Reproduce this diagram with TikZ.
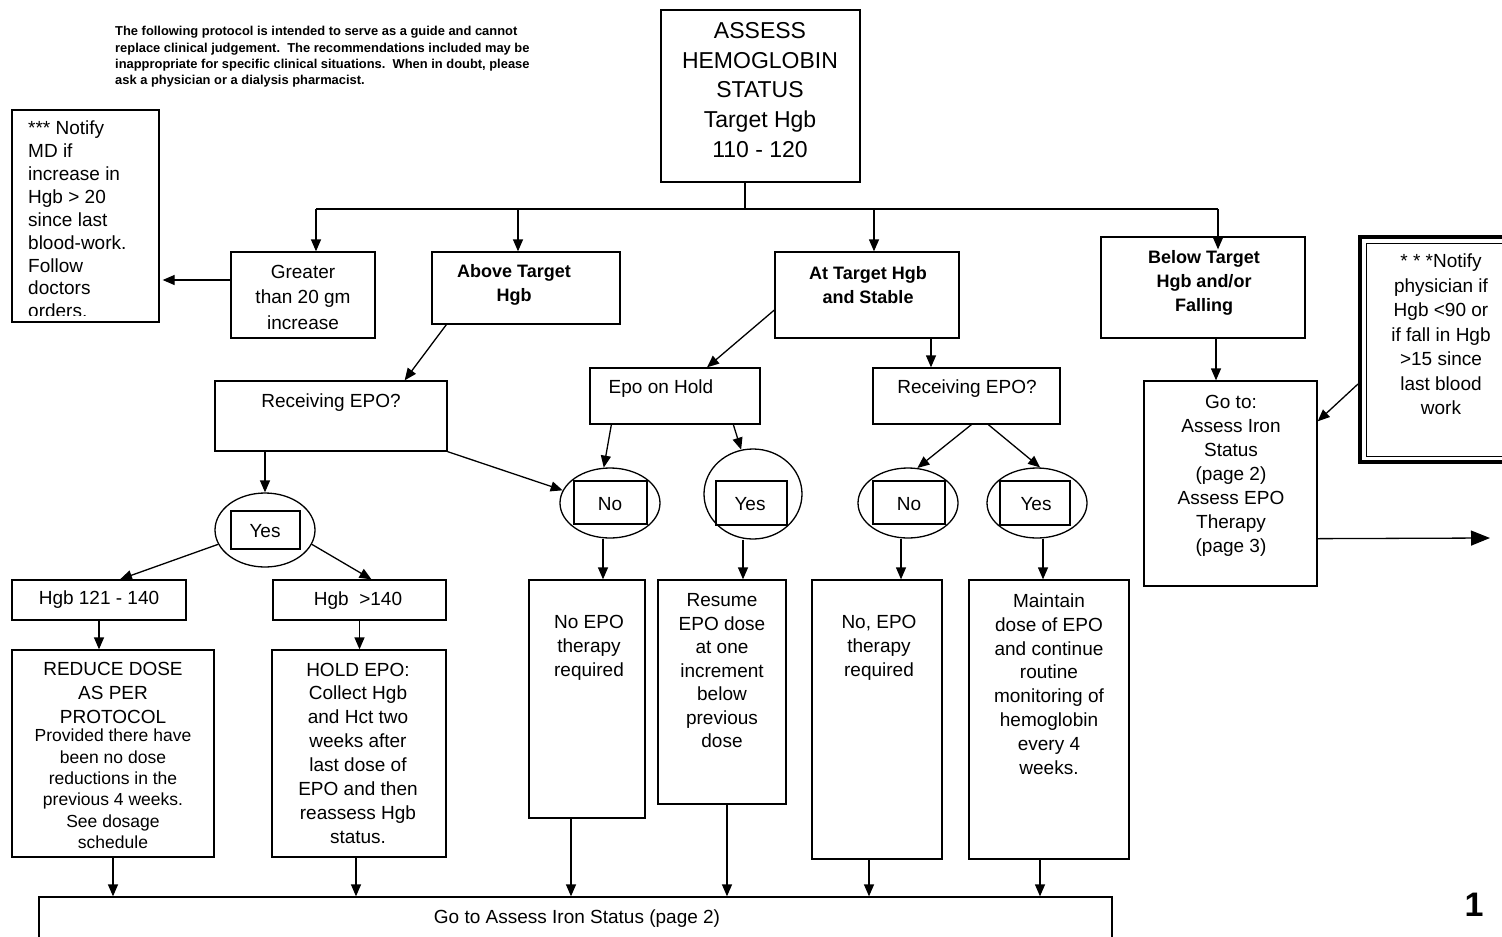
\documentclass[tikz,border=0pt]{standalone}
\usepackage{fontspec}
\setmainfont{Liberation Sans}
\usetikzlibrary{arrows.meta,calc,fit,shapes.geometric}
\begin{document}
\begin{tikzpicture}[x=1pt,y=-1pt,
  box/.style={draw,line width=1.3pt,inner sep=0pt},
  txt/.style={inner sep=0pt,align=center,font=\fontsize{19}{#1}\selectfont},
  txt/.default=23.5,
  arr/.style={line width=1.3pt,-{Triangle[length=12pt,width=10pt]}},
  ln/.style={line width=1.3pt},
  ell/.style={draw,ellipse,line width=1.3pt,inner sep=0pt}]
\clip (0,0) rectangle (1502,937);

% disclaimer
\node[inner sep=0pt,align=left,anchor=west,font=\bfseries\fontsize{12.9}{16.3}\selectfont] (discl) at (115,57)
 {The following protocol is intended to serve as a guide and cannot\\
  replace clinical judgement.\ \ The recommendations included may be\\
  inappropriate for specific clinical situations.\ \ When in doubt, please\\
  ask a physician or a dialysis pharmacist.};

% title
\node[box,fit={(661,10)(860,182)}] (title) {};
\node[inner sep=0pt,align=center,font=\fontsize{23}{29.7}\selectfont] (titleT) at (760,90)
 {ASSESS\\HEMOGLOBIN\\STATUS\\Target Hgb\\110 - 120};

% first row
\node[box,fit={(12,110)(159,322)}] (notifyL) {};
\begin{scope}
\clip (12,110) rectangle (159,315);
\node[txt=22.9,align=left,anchor=west] (notifyLT) at (28,219.5)
 {*** Notify\\MD if\\increase in\\Hgb > 20\\since last\\blood-work.\\Follow\\doctors\\orders.};
\end{scope}
\node[box,fit={(231,252)(375,338)}] (greater) {};
\node[txt=25.5] (greaterT) at (303,297) {Greater\\than 20 gm\\increase};
\node[box,fit={(432,252)(620,324)}] (above) {};
\node[txt=24,font=\bfseries\fontsize{18}{24}\selectfont] (aboveT) at (514,285) {Above Target\\Hgb};
\node[box,fit={(775,252)(959,338)}] (atT) {};
\node[txt=24,font=\bfseries\fontsize{18}{24}\selectfont] (atTT) at (868,285) {At Target Hgb\\and Stable};
\node[box,fit={(1101,237)(1305,338)}] (below) {};
\node[txt=24,font=\bfseries\fontsize{18}{24}\selectfont] (belowT) at (1204,283) {Below Target\\Hgb and/or\\Falling};
\node[draw,line width=4pt,inner sep=0pt,fit={(1360,237)(1515,462)}] (notifyR) {};
\node[draw,line width=1pt,inner sep=0pt,fit={(1366,243)(1515,456)}] (notifyRi) {};
\node[txt=24.5] (notifyRT) at (1441,334.5)
 {* * *Notify\\physician if\\Hgb <90 or\\if fall in Hgb\\>15 since\\last blood\\work};

% bus
\coordinate (bus) at (745,209);
\coordinate (busL) at (316,209);
\coordinate (busA) at (518,209);
\coordinate (busT) at (874,209);
\coordinate (busR) at (1218,209);
\draw[ln] (title.south -| bus) -- (bus);
\draw[ln] (busL) -- (busR);
\draw[arr] (busL) -- (busL |- greater.north);
\draw[arr] (busA) -- (busA |- above.north);
\draw[arr] (busT) -- (busT |- atT.north);
\coordinate (belowIn) at ($(below.north -| busR)+(0,13)$);
\draw[arr] (busR) -- (belowIn);
\draw[arr] ($(greater.west)+(0,-15)$) -- ($(notifyL.east)+(3,64)$);

% second row
\node[box,fit={(215,381)(447,451)}] (recL) {};
\node[txt] (recLT) at (331,403) {Receiving EPO?};
\node[box,fit={(590,368)(760,424)}] (epo) {};
\node[txt] (epoT) at (661,389) {Epo on Hold};
\node[box,fit={(873,368)(1060,424)}] (recM) {};
\node[txt] (recMT) at (967,389) {Receiving EPO?};
\node[box,fit={(1144,381)(1317,586)}] (goto) {};
\node[txt=24] (gotoT) at (1231,476) {Go to:\\Assess Iron\\Status\\(page 2)\\Assess EPO\\Therapy\\(page 3)};

\draw[arr] ($(above.south west)+(15,0)$) -- ($(recL.north east)+(-43,0)$);
\draw[arr] ($(atT.west)+(0,15)$) -- ($(epo.north)+(32,0)$);
\coordinate (atS) at ($(atT.south)+(64,0)$);
\draw[arr] (atS) -- (atS |- recM.north);
\coordinate (belS) at ($(below.south)+(13,0)$);
\draw[arr] (belS) -- (belS |- goto.north);
\draw[arr] ($(notifyR.west)+(0,34.5)$) -- ($(goto.north east)+(0,41)$);
\coordinate (pageArrow) at (1490,538);
\draw[line width=1.3pt,-{Triangle[length=19pt,width=15pt]}] ($(goto.south east)+(0,-48)$) -- (pageArrow);

% ellipses
\node[ell,minimum width=100pt,minimum height=74pt] (ellYL) at (265,530) {};
\node[box,fit={(231,511)(300,549)}] (yL) {};
\node[txt] (yLT) at (265,531) {Yes};
\node[ell,minimum width=100pt,minimum height=70pt] (ellN1) at (610,503) {};
\node[box,fit={(574,481)(647,524)}] (n1) {};
\node[txt] (n1T) at (610,504) {No};
\node[ell,minimum width=98pt,minimum height=90pt] (ellY1) at (753,494) {};
\node[box,fit={(716,481)(787,525)}] (y1) {};
\node[txt] (y1T) at (750,504) {Yes};
\node[ell,minimum width=100pt,minimum height=70pt] (ellN2) at (908,503) {};
\node[box,fit={(873,481)(945,524)}] (n2) {};
\node[txt] (n2T) at (909,504) {No};
\node[ell,minimum width=100pt,minimum height=70pt] (ellY2) at (1037,503) {};
\node[box,fit={(1000,481)(1070,525)}] (y2) {};
\node[txt] (y2T) at (1036,504) {Yes};

\draw[arr] (recL.south -| ellYL.north) -- (ellYL.north);
\draw[arr] (recL.south east) -- (ellN1.165);
\draw[arr] ($(epo.south west)+(22,0)$) -- (ellN1.100);
\draw[arr] ($(epo.south west)+(144,0)$) -- (ellY1.105);
\draw[arr] ($(recM.south west)+(99,0)$) -- (ellN2.75);
\draw[arr] ($(recM.south west)+(116,0)$) -- (ellY2.85);

% third row
\node[box,fit={(12,580)(186,620)}] (h121) {};
\node[txt] (h121T) at (99,600) {Hgb 121 - 140};
\node[box,fit={(273,580)(446,620)}] (h140) {};
\node[txt] (h140T) at (358,601) {Hgb\ \ >140};
\draw[arr] (ellYL.197) -- ($(h121.north)+(21,0)$);
\draw[arr] (ellYL.-17) -- ($(h140.north)+(12,0)$);

\node[box,fit={(12,650)(214,857)}] (reduce) {};
\node[txt=24] (reduceA) at (113,693) {REDUCE DOSE\\AS PER\\PROTOCOL};
\node[txt=21.4,font=\fontsize{17.5}{21.4}\selectfont] (reduceB) at (113,789)
 {Provided there have\\been no dose\\reductions in the\\previous 4 weeks.\\See dosage\\schedule};
\node[box,fit={(272,650)(446,857)}] (hold) {};
\node[txt=23.86] (holdT) at (358,753)
 {HOLD EPO:\\Collect Hgb\\and Hct two\\weeks after\\last dose of\\EPO and then\\reassess Hgb\\status.};
\draw[arr] (h121.south) -- (h121.south |- reduce.north);
\draw[arr] (h140.south) -- (h140.south |- hold.north);

\node[box,fit={(529,580)(645,818)}] (noEpo) {};
\node[txt=24] (noEpoT) at (589,648) {No EPO\\therapy\\required};
\node[box,fit={(658,580)(786,804)}] (resume) {};
\node[txt=23.5] (resumeT) at (722,671) {Resume\\EPO dose\\at one\\increment\\below\\previous\\dose};
\node[box,fit={(812,580)(942,859)}] (noEpo2) {};
\node[txt=24] (noEpo2T) at (879,648) {No, EPO\\therapy\\required};
\node[box,fit={(969,580)(1129,859)}] (maintain) {};
\node[txt=23.86] (maintainT) at (1049,684)
 {Maintain\\dose of EPO\\and continue\\routine\\monitoring of\\hemoglobin\\every 4\\weeks.};

\coordinate (n1s) at ($(ellN1.south)+(-7,0)$);
\draw[arr] (n1s) -- (n1s |- noEpo.north);
\coordinate (y1s) at ($(ellY1.south)+(-10,0)$);
\draw[arr] (y1s) -- (y1s |- resume.north);
\coordinate (n2s) at ($(ellN2.south)+(-7,0)$);
\draw[arr] (n2s) -- (n2s |- noEpo2.north);
\coordinate (y2s) at ($(ellY2.south)+(6,0)$);
\draw[arr] (y2s) -- (y2s |- maintain.north);

% bottom
\node[box,fit={(39,897)(1112,960)}] (bottom) {};
\node[txt] (bottomT) at (577,919) {Go to Assess Iron Status (page 2)};
\draw[arr] (reduce.south) -- (reduce.south |- bottom.north);
\draw[arr] ($(hold.south)+(-3,0)$) -- ($(hold.south |- bottom.north)+(-3,0)$);
\coordinate (b3) at ($(noEpo.south)+(-16,0)$);
\draw[arr] (b3) -- (b3 |- bottom.north);
\coordinate (b4) at ($(resume.south)+(5,0)$);
\draw[arr] (b4) -- (b4 |- bottom.north);
\coordinate (b5) at ($(noEpo2.south)+(-8,0)$);
\draw[arr] (b5) -- (b5 |- bottom.north);
\coordinate (b6) at ($(maintain.south)+(-9,0)$);
\draw[arr] (b6) -- (b6 |- bottom.north);

\node[inner sep=0pt,font=\bfseries\fontsize{34}{34}\selectfont] (pageNo) at (1474,905) {1};
\end{tikzpicture}
\end{document}
